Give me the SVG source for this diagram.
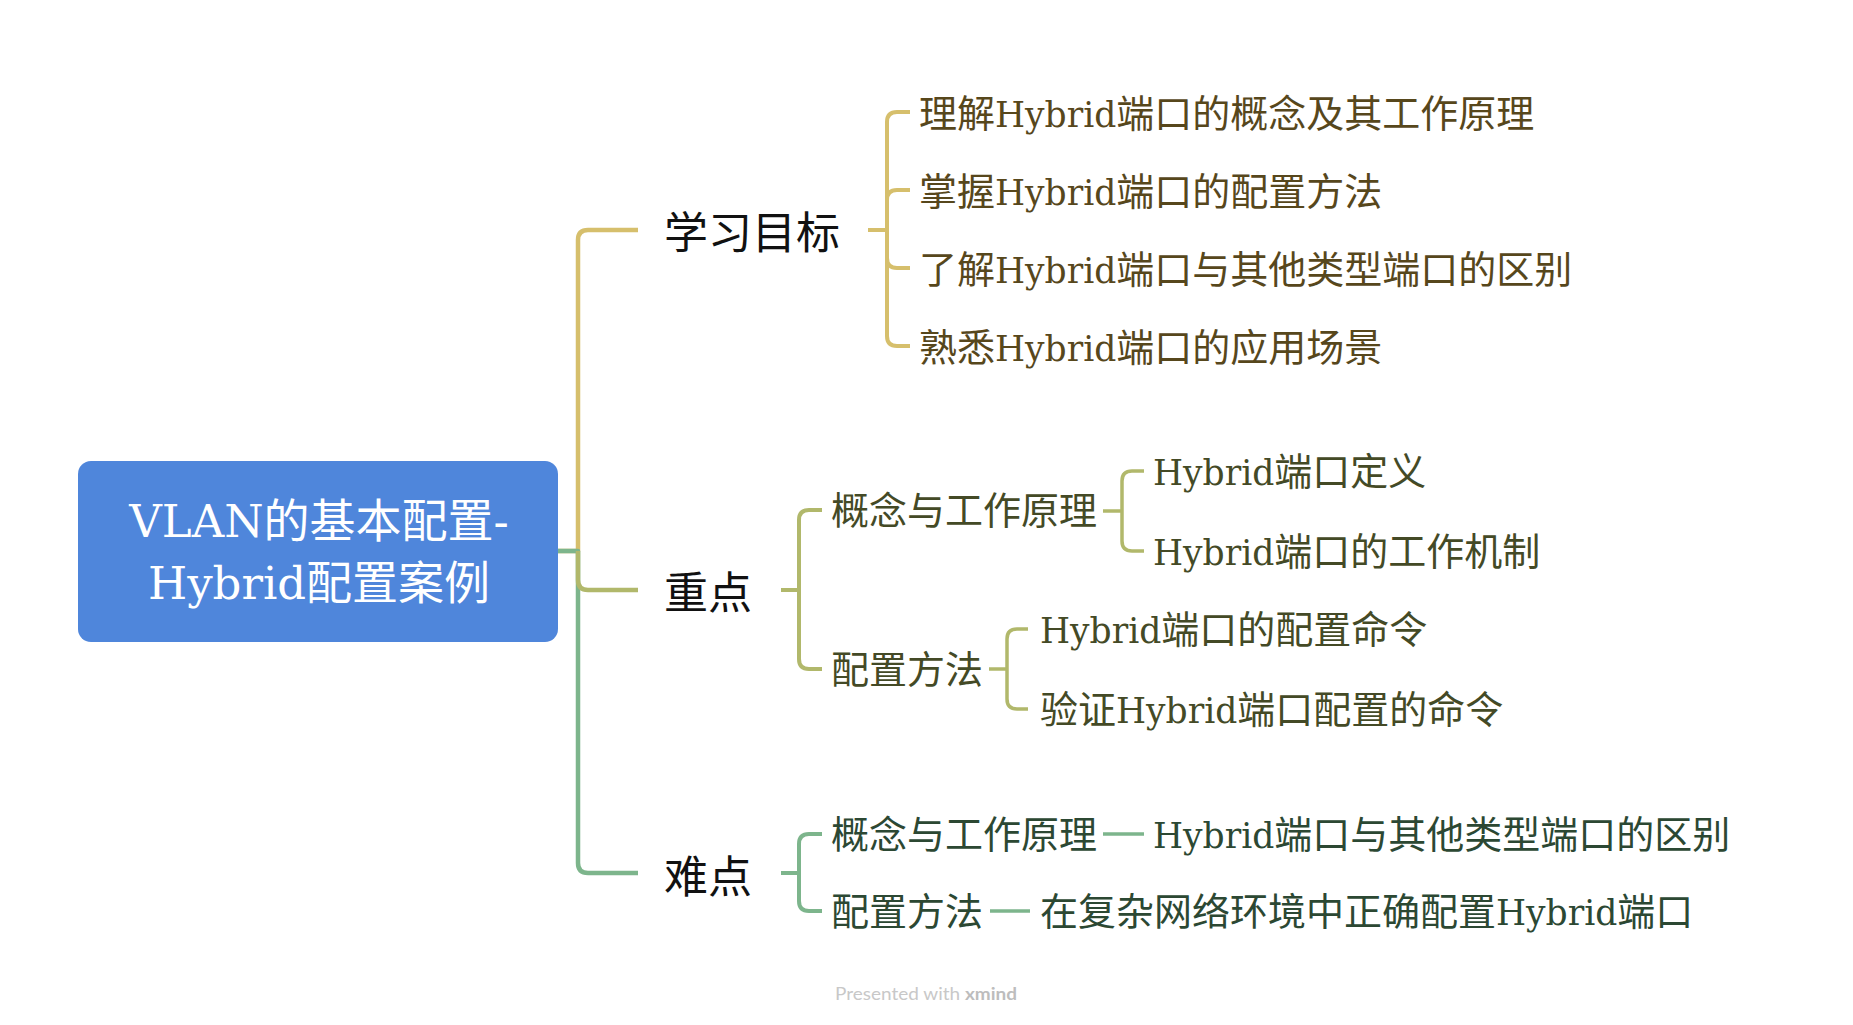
<svg xmlns="http://www.w3.org/2000/svg" width="1853" height="1025" viewBox="0 0 1853 1025">
<style>
.t{font-family:"DejaVu Serif","Noto Sans CJK SC",sans-serif;}
.lat{font-size:34.5px;}
.root{font-size:46px;fill:#ffffff;}
.root .lat{font-size:45px;}
.main{font-size:44px;fill:#111111;font-family:"Noto Sans CJK SC",sans-serif;}
.l{font-size:38px;}
.gold{fill:#57471c;}
.olive{fill:#444a26;}
.green{fill:#2c4833;}
.c{fill:none;stroke-linecap:butt;stroke-linejoin:round;}
.cg{stroke:#d6bf6c;}
.co{stroke:#b1b86b;}
.cn{stroke:#7db58c;}
.w4{stroke-width:4.5;}
.w3{stroke-width:4;}
.w2{stroke-width:3.5;}
</style>
<rect width="1853" height="1025" fill="#ffffff"/>
<g id="connectors">
<path class="c cg w4" d="M558,551 H578 V240 Q578,230 588,230 H638"/>
<path class="c cn w4" d="M558,551 H578 V863 Q578,873 588,873 H638"/>
<path class="c co w4" d="M578,551 V580 Q578,590 588,590 H638"/>
<path class="c cg w3" d="M868,230 H887"/>
<path class="c cg w3" d="M887,230 V122 Q887,112 897,112 H910"/>
<path class="c cg w3" d="M887,230 V200 Q887,190 897,190 H910"/>
<path class="c cg w3" d="M887,230 V258 Q887,268 897,268 H910"/>
<path class="c cg w3" d="M887,230 V336 Q887,346 897,346 H910"/>
<path class="c co w3" d="M781,590 H799"/>
<path class="c co w3" d="M799,590 V520 Q799,510 809,510 H822"/>
<path class="c co w3" d="M799,590 V659 Q799,669 809,669 H822"/>
<path class="c co w2" d="M1103,511 H1122"/>
<path class="c co w2" d="M1122,511 V481 Q1122,471 1132,471 H1144"/>
<path class="c co w2" d="M1122,511 V541 Q1122,551 1132,551 H1144"/>
<path class="c co w2" d="M989,669 H1007"/>
<path class="c co w2" d="M1007,669 V639 Q1007,629 1017,629 H1028"/>
<path class="c co w2" d="M1007,669 V699 Q1007,709 1017,709 H1028"/>
<path class="c cn w3" d="M781,873 H799"/>
<path class="c cn w3" d="M799,873 V844 Q799,834 809,834 H822"/>
<path class="c cn w3" d="M799,873 V901 Q799,911 809,911 H822"/>
<path class="c cn w2" d="M1103,834 H1144"/>
<path class="c cn w2" d="M990,911 H1030"/>
</g>
<g id="root">
<rect x="78" y="461" width="480" height="181" rx="13" fill="#4f86db"/>
<text class="t root" x="319" y="537" text-anchor="middle"><tspan class="lat">VLAN</tspan>的基本配置<tspan class="lat">-</tspan></text>
<text class="t root" x="319" y="599" text-anchor="middle"><tspan class="lat">Hybrid</tspan>配置案例</text>
</g>
<g id="goal">
<text class="main" x="664" y="249">学习目标</text>
</g>
<g id="goal-1"><text class="t l gold" x="919" y="127">理解<tspan class="lat">Hybrid</tspan>端口的概念及其工作原理</text></g>
<g id="goal-2"><text class="t l gold" x="919" y="205">掌握<tspan class="lat">Hybrid</tspan>端口的配置方法</text></g>
<g id="goal-3"><text class="t l gold" x="919" y="283">了解<tspan class="lat">Hybrid</tspan>端口与其他类型端口的区别</text></g>
<g id="goal-4"><text class="t l gold" x="919" y="361">熟悉<tspan class="lat">Hybrid</tspan>端口的应用场景</text></g>
<g id="key">
<text class="main" x="664" y="609">重点</text>
</g>
<g id="key-concept"><text class="t l olive" x="831" y="524">概念与工作原理</text></g>
<g id="key-concept-1"><text class="t l olive" x="1153" y="485"><tspan class="lat">Hybrid</tspan>端口定义</text></g>
<g id="key-concept-2"><text class="t l olive" x="1153" y="565"><tspan class="lat">Hybrid</tspan>端口的工作机制</text></g>
<g id="key-method"><text class="t l olive" x="831" y="683">配置方法</text></g>
<g id="key-method-1"><text class="t l olive" x="1040" y="643"><tspan class="lat">Hybrid</tspan>端口的配置命令</text></g>
<g id="key-method-2"><text class="t l olive" x="1040" y="723">验证<tspan class="lat">Hybrid</tspan>端口配置的命令</text></g>
<g id="hard">
<text class="main" x="664" y="893">难点</text>
</g>
<g id="hard-concept"><text class="t l green" x="831" y="848">概念与工作原理</text></g>
<g id="hard-concept-1"><text class="t l green" x="1153" y="848"><tspan class="lat">Hybrid</tspan>端口与其他类型端口的区别</text></g>
<g id="hard-method"><text class="t l green" x="831" y="925">配置方法</text></g>
<g id="hard-method-1"><text class="t l green" x="1040" y="925">在复杂网络环境中正确配置<tspan class="lat">Hybrid</tspan>端口</text></g>
<text x="835" y="1000" font-family="Lato, 'Open Sans', sans-serif" font-size="17" fill="#c8c8c8" textLength="182" lengthAdjust="spacingAndGlyphs">Presented with <tspan font-weight="bold" fill="#bdbdbd">xmind</tspan></text>
</svg>
